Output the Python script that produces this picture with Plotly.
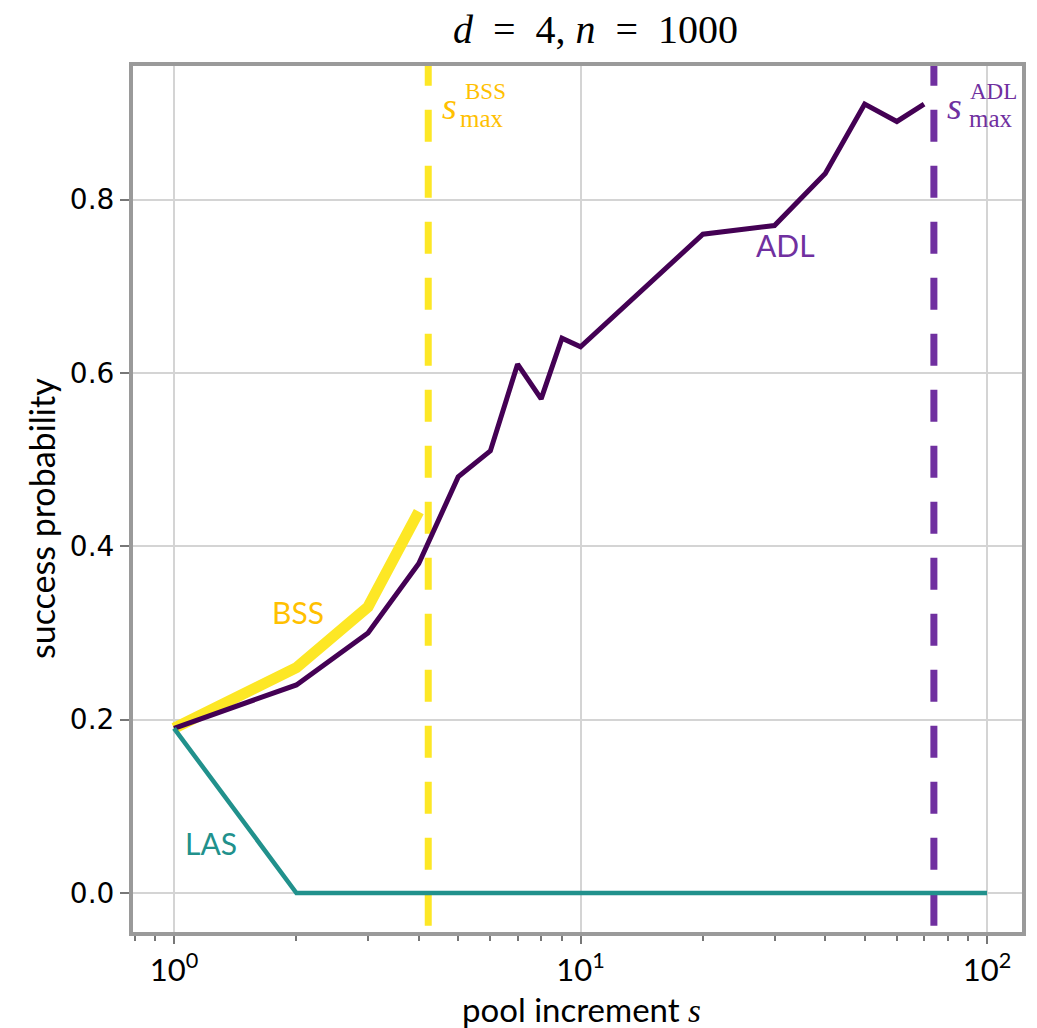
import numpy as np
import plotly.graph_objects as go

# pool increment values and success probabilities per method
adl_s = [1, 2, 3, 4, 5, 6, 7, 8, 9, 10, 20, 30, 40, 50, 60, 70]
adl_p = [0.19, 0.24, 0.30, 0.38, 0.48, 0.51, 0.61, 0.57, 0.64, 0.63, 0.76, 0.77, 0.83, 0.91, 0.89, 0.91]

bss_s = [1, 2, 3, 4]
bss_p = [0.19, 0.26, 0.33, 0.44]

las_s = [1, 2, 3, 4, 5, 6, 7, 8, 9, 10, 20, 30, 40, 50, 60, 70, 80, 90, 100]
las_p = [0.19, 0.0, 0.0, 0.0, 0.0, 0.0, 0.0, 0.0, 0.0, 0.0, 0.0, 0.0, 0.0, 0.0, 0.0, 0.0, 0.0, 0.0, 0.0]

# largest admissible pool increment for each method
bss_smax = 4.22
adl_smax = 74

x_tickvals = [1, 10, 100]
x_ticktext = ["10<sup>0</sup>", "10<sup>1</sup>", "10<sup>2</sup>"]
y_tickvals = [0.0, 0.2, 0.4, 0.6, 0.8]
y_ticktext = ["0.0", "0.2", "0.4", "0.6", "0.8"]

YRANGE = [-0.045, 0.954]
XRANGE = [-0.101, 2.086]

C_ADL = "#440154"
C_BSS = "#FDE725"
C_LAS = "#21918C"
C_ADL_TXT = "#7030A0"
C_BSS_TXT = "#FFC000"
C_SMAX_ADL = "#7030A0"

fig = go.Figure()

# vertical markers at s_max (extend a little above the frame so the dash phase starts clipped)
for sm, col in [(bss_smax, C_BSS), (adl_smax, C_SMAX_ADL)]:
    fig.add_trace(go.Scatter(
        x=[sm, sm], y=[YRANGE[1] + 0.014, YRANGE[0]], mode="lines",
        line=dict(color=col, width=7, dash="32px,24px"), hoverinfo="skip"))

fig.add_trace(go.Scatter(x=bss_s, y=bss_p, mode="lines",
                         line=dict(color=C_BSS, width=11), name="BSS"))
fig.add_trace(go.Scatter(x=adl_s, y=adl_p, mode="lines",
                         line=dict(color=C_ADL, width=5), name="ADL"))
fig.add_trace(go.Scatter(x=las_s, y=las_p, mode="lines",
                         line=dict(color=C_LAS, width=4.5), name="LAS"))

sans = "Lato"
serif = "Liberation Serif"

annotations = [
    dict(x=np.log10(2.02), y=0.324, text="BSS", font=dict(family=sans, size=30, color=C_BSS_TXT)),
    dict(x=np.log10(32.0), y=0.748, text="ADL", font=dict(family=sans, size=30, color=C_ADL_TXT)),
    dict(x=np.log10(1.23), y=0.058, text="LAS", font=dict(family=sans, size=30, color=C_LAS)),
]
for a in annotations:
    a.update(xref="x", yref="y", showarrow=False, xanchor="center", yanchor="middle")

# s_max labels: italic s with stacked method name and "max"
for sm, lab, col, dx_lab in [(bss_smax, "BSS", C_BSS_TXT, 57), (adl_smax, "ADL", C_SMAX_ADL, 60)]:
    base = dict(x=np.log10(sm), xref="x", yref="paper", y=1, showarrow=False,
                xanchor="center", yanchor="middle", borderpad=0)
    annotations.append(dict(base, text="<i>s</i>", xshift=21,
                            yshift=-40, font=dict(family=serif, size=38, color=col)))
    annotations.append(dict(base, text=lab, xshift=dx_lab,
                            yshift=-25, font=dict(family=serif, size=23, color=col)))
    annotations.append(dict(base, text="max", xshift=dx_lab - 3,
                            yshift=-52, font=dict(family=serif, size=25, color=col)))

# title
annotations.append(dict(
    text="<i>d</i>&nbsp;&nbsp;=&nbsp;&nbsp;4,&nbsp;<i>n</i>&nbsp;&nbsp;=&nbsp;&nbsp;1000",
    xref="paper", yref="paper", x=(595 - 133) / 889, y=1, yshift=37,
    xanchor="center", yanchor="middle", showarrow=False,
    font=dict(family=serif, size=40, color="#000000")))

# axis titles
annotations.append(dict(
    text="success probability", xref="paper", yref="paper",
    x=0, xshift=-92, y=(932 - 519) / 866, textangle=-90,
    xanchor="center", yanchor="middle", showarrow=False,
    font=dict(family=sans, size=34, color="#000000")))
annotations.append(dict(
    text="pool increment <i style='font-family:Liberation Serif'>s</i>", xref="paper", yref="paper",
    x=(581 - 133) / 889, y=0, yshift=-77,
    xanchor="center", yanchor="middle", showarrow=False,
    font=dict(family=sans, size=33, color="#000000")))

frame = "#9a9a9a"
grid = "#d4d4d4"

fig.update_layout(
    width=1037, height=1028,
    margin=dict(l=133, r=15, t=66, b=96),
    paper_bgcolor="white", plot_bgcolor="white",
    showlegend=False,
    annotations=annotations,
    xaxis=dict(
        type="log", range=XRANGE,
        tickvals=x_tickvals, ticktext=x_ticktext,
        tickfont=dict(family=sans, size=31, color="#000000"),
        ticks="outside", ticklen=8, tickwidth=2, tickcolor="#777777",
        showgrid=True, gridcolor=grid, gridwidth=2,
        showline=True, linecolor=frame, linewidth=4, mirror=True,
        zeroline=False,
        minor=dict(tickvals=[0.8, 0.9, 2, 3, 4, 5, 6, 7, 8, 9, 20, 30, 40, 50, 60, 70, 80, 90],
                   ticks="outside", ticklen=5, tickwidth=2, tickcolor="#777777", showgrid=False),
    ),
    yaxis=dict(
        range=YRANGE,
        tickvals=y_tickvals, ticktext=y_ticktext,
        tickfont=dict(family="DejaVu Sans", size=28, color="#000000"),
        ticks="outside", ticklen=9, tickwidth=2, tickcolor="#777777",
        showgrid=True, gridcolor=grid, gridwidth=2,
        showline=True, linecolor=frame, linewidth=4, mirror=True,
        zeroline=False,
    ),
)

fig.write_html("out.html")
